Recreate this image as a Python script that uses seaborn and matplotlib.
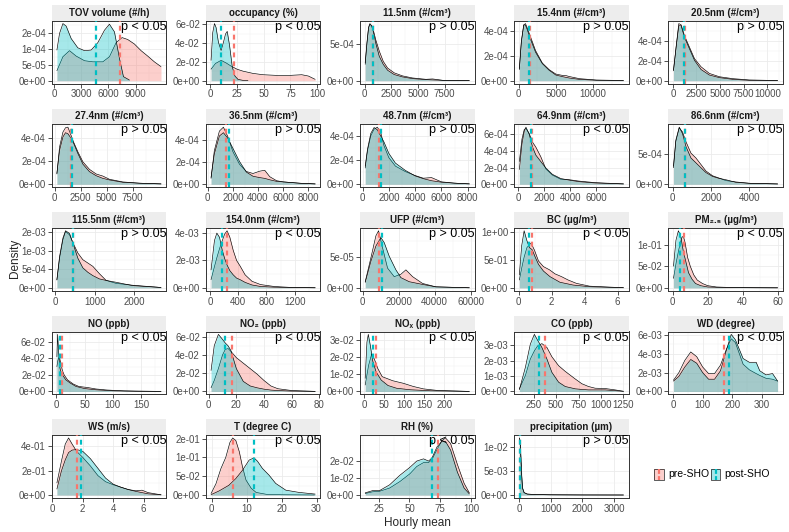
import numpy as np
import matplotlib
matplotlib.use("Agg")
import matplotlib.pyplot as plt
import matplotlib.ticker as mticker
from matplotlib.patches import Rectangle
import seaborn as sns

sns.set_theme(style="white")
plt.rcParams['font.family'] = ['Liberation Sans', 'DejaVu Sans']

GROUPS = ["pre-SHO", "post-SHO"]
COLORS = ["#F8766D", "#00BFC4"]

TITLES = ["TOV volume (#/h)", "occupancy (%)", "11.5nm (#/cm³)", "15.4nm (#/cm³)", "20.5nm (#/cm³)",
          "27.4nm (#/cm³)", "36.5nm (#/cm³)", "48.7nm (#/cm³)", "64.9nm (#/cm³)", "86.6nm (#/cm³)",
          "115.5nm (#/cm³)", "154.0nm (#/cm³)", "UFP (#/cm³)", "BC (µg/m³)", "PM₂.₅ (µg/m³)",
          "NO (ppb)", "NO₂ (ppb)", "NOₓ (ppb)", "CO (ppb)", "WD (degree)",
          "WS (m/s)", "T (degree C)", "RH (%)", "precipitation (µm)"]
P_TEXT = ["p < 0.05", "p < 0.05", "p > 0.05", "p > 0.05", "p > 0.05",
          "p > 0.05", "p > 0.05", "p > 0.05", "p < 0.05", "p > 0.05",
          "p > 0.05", "p < 0.05", "p > 0.05", "p < 0.05", "p < 0.05",
          "p < 0.05", "p < 0.05", "p < 0.05", "p < 0.05", "p < 0.05",
          "p < 0.05", "p < 0.05", "p < 0.05", "p > 0.05"]
MEAN_PRE = [7290, 22.0, 820, 1470, 1240, 1600, 1470, 1250, 1030, 665, 450, 247, 9260, 0.82, 6.4,
            10.6, 17.0, 29.7, 372, 173, 1.6, 6.2, 73.2, 19]
MEAN_POST = [4580, 10.3, 810, 1440, 1230, 1690, 1680, 1375, 1010, 655, 445, 174, 10560, 0.65, 4.4,
             7.1, 12.0, 21.2, 309, 190, 1.9, 12.0, 68.2, 20]
XTICKS = [[0, 3000, 6000, 9000], [0, 25, 50, 75, 100], [0, 2500, 5000, 7500], [0, 5000, 10000],
          [0, 2500, 5000, 7500, 10000], [0, 2500, 5000, 7500], [0, 2000, 4000, 6000, 8000],
          [0, 2000, 4000, 6000, 8000], [0, 2000, 4000, 6000], [0, 2000, 4000], [0, 1000, 2000],
          [0, 400, 800, 1200], [0, 20000, 40000, 60000], [0, 2, 4, 6], [0, 20, 40, 60],
          [0, 50, 100, 150], [0, 20, 40, 60, 80], [0, 50, 100, 150, 200], [250, 500, 750, 1000, 1250],
          [0, 100, 200, 300], [0, 2, 4, 6], [0, 10, 20, 30], [25, 50, 75, 100], [0, 1000, 2000, 3000]]
YTICKS = [[0, 5e-5, 1e-4, 1.5e-4], [0, 0.02, 0.04, 0.06], [0, 5e-4], [0, 2e-4, 4e-4], [0, 2e-4, 4e-4],
          [0, 2e-4, 4e-4], [0, 2e-4, 4e-4], [0, 2e-4, 4e-4], [0, 2e-4, 4e-4, 6e-4], [0, 5e-4],
          [0, 5e-4, 1e-3, 1.5e-3], [0, 2e-3, 4e-3], [0, 5e-5], [0, 0.5, 1.0], [0, 0.05, 0.1],
          [0, 0.02, 0.04, 0.06], [0, 0.02, 0.04, 0.06], [0, 0.01, 0.02, 0.03], [0, 1e-3, 2e-3, 3e-3],
          [0, 2e-3, 4e-3, 6e-3], [0, 0.2, 0.4], [0, 0.05, 0.1, 0.15], [0, 0.01, 0.02], [0, 0.005, 0.01]]
YLABELS = [["0e+00", "5e-05", "1e-04", "2e-04"], ["0e+00", "2e-02", "4e-02", "6e-02"], ["0e+00", "5e-04"],
           ["0e+00", "2e-04", "4e-04"], ["0e+00", "2e-04", "4e-04"], ["0e+00", "2e-04", "4e-04"],
           ["0e+00", "2e-04", "4e-04"], ["0e+00", "2e-04", "4e-04"], ["0e+00", "2e-04", "4e-04", "6e-04"],
           ["0e+00", "5e-04"], ["0e+00", "5e-04", "1e-03", "2e-03"], ["0e+00", "2e-03", "4e-03"],
           ["0e+00", "5e-05"], ["0e+00", "5e-01", "1e+00"], ["0e+00", "5e-02", "1e-01"],
           ["0e+00", "2e-02", "4e-02", "6e-02"], ["0e+00", "2e-02", "4e-02", "6e-02"],
           ["0e+00", "1e-02", "2e-02", "3e-02"], ["0e+00", "1e-03", "2e-03", "3e-03"],
           ["0e+00", "2e-03", "4e-03", "6e-03"], ["0e+00", "2e-01", "4e-01"],
           ["0e+00", "5e-02", "1e-01", "2e-01"], ["0e+00", "1e-02", "2e-02"], ["0e+00", "5e-03", "1e-02"]]

# ---- density curves ----
TOV_PRE_X = [330, 990, 1720, 2450, 3370, 4280, 5380, 6110, 6840, 7500, 8120, 8850, 9590, 10320, 11050, 11780]
TOV_PRE_Y = [3.1e-5, 7.5e-5, 9.4e-5, 7.7e-5, 6.25e-5, 5.9e-5, 5.9e-5, 7.5e-5, 1.19e-4, 1.35e-4, 1.29e-4,
             1.15e-4, 9.4e-5, 7.7e-5, 5.9e-5, 4.4e-5]
TOV_POST_X = [330, 620, 990, 1350, 1900, 2630, 3370, 4100, 4830, 5560, 6110, 6660, 7210, 7650, 8300]
TOV_POST_Y = [9.6e-5, 1.48e-4, 1.79e-4, 1.71e-4, 1.32e-4, 1.03e-4, 9.4e-5, 9.6e-5, 1.19e-4, 1.58e-4,
              1.77e-4, 1.53e-4, 7.0e-5, 1.25e-5, 2e-6]

OCC_PRE_X = [0.9, 5.0, 10.3, 15.0, 19.7, 25.1, 30.7, 40.1, 49.5, 62.1, 74.6, 85.6, 91.8, 98.1]
OCC_PRE_Y = [0.0122, 0.0182, 0.0216, 0.0188, 0.0154, 0.0122, 0.0101, 0.0077, 0.0063, 0.0056, 0.0056,
             0.0063, 0.0049, 0.0014]
OCC_POST_X = [0.9, 2.5, 4.1, 5.6, 7.8, 10.3, 12.5, 14.4, 16.0, 18.2, 20.7, 23.2, 26.0, 30.7, 35.4]
OCC_POST_Y = [0.0216, 0.0513, 0.0607, 0.0565, 0.0408, 0.0321, 0.0408, 0.0496, 0.0524, 0.0373, 0.0147,
              0.0049, 0.0014, 0.0003, 0.00005]

N11_X = [60, 220, 375, 500, 660, 840, 1060, 1375, 1750, 2160, 2780, 3560, 4500, 5750, 6375, 7310, 9810]
N11_PRE = [2.2e-4, 4.9e-4, 7.1e-4, 7.6e-4, 7.4e-4, 6.7e-4, 5.45e-4, 4.0e-4, 2.6e-4, 1.7e-4, 1.05e-4,
           6.4e-5, 3.6e-5, 1.8e-5, 2.3e-5, 4.5e-6, 1e-6]
N11_POST = [2.4e-4, 5.1e-4, 7.2e-4, 7.7e-4, 7.4e-4, 6.5e-4, 5.0e-4, 3.3e-4, 2.2e-4, 1.4e-4, 8.2e-5,
            5.0e-5, 2.7e-5, 1.4e-5, 1.0e-5, 4.5e-6, 1e-6]

N15_X = [90, 360, 680, 910, 1140, 1590, 2270, 3180, 4090, 5000, 5910, 6400, 6820, 8180, 10450, 14090]
N15_PRE = [0.89e-4, 3.08e-4, 4.47e-4, 4.6e-4, 4.26e-4, 3.53e-4, 2.42e-4, 1.42e-4, 0.89e-4, 0.53e-4,
           0.42e-4, 0.40e-4, 0.33e-4, 0.16e-4, 0.05e-4, 0.01e-4]
N15_POST = [0.97e-4, 3.2e-4, 4.5e-4, 4.47e-4, 4.13e-4, 3.34e-4, 2.29e-4, 1.37e-4, 0.84e-4, 0.45e-4,
            0.32e-4, 0.26e-4, 0.21e-4, 0.1e-4, 0.03e-4, 0.01e-4]

N20_X = [70, 350, 630, 880, 1230, 1760, 2290, 2990, 3870, 4930, 6340, 8100, 11090]
N20_PRE = [0.98e-4, 3.41e-4, 5.7e-4, 5.57e-4, 4.49e-4, 3.34e-4, 2.2e-4, 1.38e-4, 0.72e-4, 0.39e-4,
           0.2e-4, 0.07e-4, 0.01e-4]
N20_POST = [1.05e-4, 3.34e-4, 5.48e-4, 5.48e-4, 4.33e-4, 3.18e-4, 2.03e-4, 1.11e-4, 0.56e-4, 0.3e-4,
            0.13e-4, 0.03e-4, 0.01e-4]

N27_X = [224, 480, 800, 1050, 1280, 1500, 1820, 2240, 2720, 3350, 3990, 4630, 5270, 6550, 8150, 10220]
N27_PRE = [0.89e-4, 3.23e-4, 4.51e-4, 4.89e-4, 4.94e-4, 4.43e-4, 3.66e-4, 2.8e-4, 1.94e-4, 1.29e-4,
           0.89e-4, 0.71e-4, 0.43e-4, 0.2e-4, 0.09e-4, 0.03e-4]
N27_POST = [0.94e-4, 2.94e-4, 4.09e-4, 4.46e-4, 4.37e-4, 4.09e-4, 3.57e-4, 2.66e-4, 1.74e-4, 1.09e-4,
            0.74e-4, 0.51e-4, 0.37e-4, 0.17e-4, 0.09e-4, 0.03e-4]

N36_X = [270, 530, 930, 1250, 1600, 2000, 2530, 3070, 3600, 4130, 4530, 4930, 5470, 6000, 7330, 8530]
N36_PRE = [0.53e-4, 3.03e-4, 4.79e-4, 5.15e-4, 4.3e-4, 2.95e-4, 1.8e-4, 1.15e-4, 0.97e-4, 1.18e-4,
           1.26e-4, 0.68e-4, 0.32e-4, 0.21e-4, 0.09e-4, 0.03e-4]
N36_POST = [0.62e-4, 2.74e-4, 4.35e-4, 4.65e-4, 4.15e-4, 3.25e-4, 2.05e-4, 1.1e-4, 0.72e-4, 0.6e-4,
            0.53e-4, 0.4e-4, 0.26e-4, 0.21e-4, 0.09e-4, 0.03e-4]

N48_X = [200, 375, 625, 875, 1125, 1375, 1625, 2000, 2500, 3250, 4000, 4625, 5250, 6000, 7000, 8125]
N48_PRE = [1.34e-4, 2.77e-4, 4.0e-4, 4.55e-4, 4.72e-4, 4.3e-4, 3.2e-4, 2.2e-4, 1.5e-4, 1.05e-4,
           0.72e-4, 0.5e-4, 0.55e-4, 0.2e-4, 0.09e-4, 0.03e-4]
N48_POST = [1.49e-4, 2.91e-4, 4.2e-4, 4.69e-4, 4.5e-4, 4.0e-4, 3.5e-4, 2.55e-4, 1.75e-4, 1.15e-4,
            0.69e-4, 0.46e-4, 0.29e-4, 0.17e-4, 0.09e-4, 0.03e-4]

N64_X = [80, 280, 460, 590, 840, 1100, 1350, 1730, 2120, 2630, 3270, 3900, 4670, 5940, 8110]
N64_PRE = [2.73e-4, 5.42e-4, 6.58e-4, 6.69e-4, 6.08e-4, 5.04e-4, 4.46e-4, 3.31e-4, 1.85e-4, 1.1e-4,
           0.6e-4, 0.55e-4, 0.38e-4, 0.19e-4, 0.04e-4]
N64_POST = [1.77e-4, 4.85e-4, 6.38e-4, 6.85e-4, 6.0e-4, 4.46e-4, 3.5e-4, 2.73e-4, 1.96e-4, 1.19e-4,
            0.69e-4, 0.5e-4, 0.31e-4, 0.15e-4, 0.04e-4]

N86_X = [50, 170, 350, 520, 700, 960, 1220, 1480, 1740, 2090, 2430, 2780, 3300, 4000, 5480]
N86_PRE = [2.74e-4, 7.04e-4, 9.35e-4, 8.66e-4, 7.04e-4, 5.16e-4, 4.35e-4, 3.28e-4, 2.2e-4, 1.4e-4,
           1.02e-4, 0.6e-4, 0.38e-4, 0.16e-4, 0.05e-4]
N86_POST = [3.0e-4, 7.3e-4, 9.46e-4, 8.39e-4, 6.24e-4, 4.35e-4, 3.55e-4, 2.74e-4, 1.94e-4, 1.29e-4,
            0.97e-4, 0.75e-4, 0.32e-4, 0.16e-4, 0.05e-4]

N115_X = [42, 110, 193, 260, 361, 445, 571, 697, 824, 950, 1118, 1286, 1538, 1958, 2672]
N115_PRE = [0.21e-3, 0.8e-3, 1.29e-3, 1.52e-3, 1.43e-3, 1.22e-3, 0.94e-3, 0.76e-3, 0.67e-3, 0.58e-3,
            0.38e-3, 0.2e-3, 0.12e-3, 0.07e-3, 0.01e-3]
N115_POST = [0.22e-3, 0.85e-3, 1.34e-3, 1.54e-3, 1.47e-3, 1.21e-3, 0.8e-3, 0.54e-3, 0.42e-3, 0.33e-3,
             0.24e-3, 0.2e-3, 0.15e-3, 0.06e-3, 0.01e-3]

N154_X = [15, 63, 97, 135, 174, 208, 242, 281, 329, 377, 426, 498, 595, 716, 909, 1151, 1490]
N154_PRE = [0.6e-3, 1.55e-3, 2.2e-3, 2.86e-3, 3.45e-3, 3.93e-3, 4.17e-3, 3.7e-3, 2.74e-3, 2.0e-3,
            1.6e-3, 0.95e-3, 0.48e-3, 0.24e-3, 0.1e-3, 0.03e-3, 0.005e-3]
N154_POST = [1.31e-3, 3.45e-3, 4.0e-3, 3.69e-3, 2.74e-3, 2.14e-3, 1.67e-3, 1.26e-3, 0.95e-3, 0.71e-3,
             0.6e-3, 0.4e-3, 0.21e-3, 0.1e-3, 0.05e-3, 0.02e-3, 0.005e-3]

UFP_PRE_X = [1480, 4630, 7410, 8890, 11110, 13890, 17590, 21300, 24070, 27780, 33330, 40740, 59260]
UFP_PRE_Y = [0.99e-5, 4.84e-5, 8.41e-5, 9.23e-5, 6.48e-5, 3.19e-5, 1.81e-5, 2.2e-5, 2.91e-5, 1.81e-5,
             0.71e-5, 0.16e-5, 0.01e-5]
UFP_POST_X = [1480, 4630, 7410, 10190, 12040, 14810, 18520, 21300, 25930, 33330, 40740, 59260]
UFP_POST_Y = [0.88e-5, 4.29e-5, 6.76e-5, 8.13e-5, 7.31e-5, 5.11e-5, 2.91e-5, 1.65e-5, 0.99e-5, 0.55e-5,
              0.16e-5, 0.01e-5]

BC_PRE_X = [0.04, 0.18, 0.33, 0.5, 0.75, 0.96, 1.2, 1.5, 1.88, 2.2, 2.6, 3.0, 3.5, 4.3, 6.35]
BC_PRE_Y = [0.14, 0.35, 0.55, 0.72, 0.8, 0.67, 0.48, 0.38, 0.32, 0.25, 0.2, 0.14, 0.08, 0.03, 0.002]
BC_POST_X = [0.04, 0.18, 0.33, 0.49, 0.65, 0.82, 1.0, 1.2, 1.5, 1.9, 2.5, 3.3, 4.3, 6.35]
BC_POST_Y = [0.23, 0.75, 1.02, 0.85, 0.72, 0.68, 0.55, 0.42, 0.3, 0.2, 0.1, 0.05, 0.02, 0.002]

PM_PRE_X = [0.4, 2, 3.5, 5, 6, 7, 8.5, 10, 12, 14, 17, 20, 25, 35, 60]
PM_PRE_Y = [0.022, 0.06, 0.09, 0.115, 0.12, 0.105, 0.07, 0.05, 0.03, 0.018, 0.01, 0.005, 0.002, 0.0005, 0.00005]
PM_POST_X = [0.4, 1.8, 3.2, 4.5, 6, 7.5, 9, 11, 13, 16, 20, 30, 60]
PM_POST_Y = [0.05, 0.11, 0.132, 0.12, 0.085, 0.06, 0.035, 0.02, 0.01, 0.005, 0.002, 0.0005, 0.00005]

NO_PRE_X = [1.2, 3, 5.5, 8, 11, 14, 20, 30, 40, 55, 70, 90, 120, 185]
NO_PRE_Y = [0.03, 0.038, 0.042, 0.034, 0.025, 0.02, 0.014, 0.009, 0.006, 0.0048, 0.003, 0.0017, 0.0007, 0.00005]
NO_POST_X = [1.2, 2.5, 4, 6, 8, 12, 17, 25, 35, 50, 70, 100, 140, 185]
NO_POST_Y = [0.042, 0.069, 0.05, 0.03, 0.024, 0.019, 0.014, 0.01, 0.006, 0.0035, 0.002, 0.0008, 0.0002, 0.00005]

NO2_X = [1.7, 4, 7, 10, 12, 14, 16, 20, 25, 30, 35, 40, 45, 50, 60, 77]
NO2_PRE = [0.004, 0.012, 0.025, 0.04, 0.046, 0.047, 0.044, 0.037, 0.031, 0.025, 0.019, 0.012, 0.006,
           0.003, 0.001, 0.0001]
NO2_POST = [0.023, 0.05, 0.0625, 0.057, 0.053, 0.05, 0.045, 0.025, 0.011, 0.006, 0.004, 0.0025, 0.0015,
            0.001, 0.0004, 0.0001]

NOX_PRE_X = [2.5, 11, 18.6, 25.4, 33.9, 44.9, 71.2, 97.5, 123, 148, 182, 262]
NOX_PRE_Y = [0.0038, 0.0154, 0.022, 0.019, 0.0135, 0.0087, 0.0063, 0.0048, 0.0029, 0.0015, 0.0006, 0.00003]
NOX_POST_X = [2.5, 6.8, 10.2, 15.3, 21.2, 29.7, 42.4, 59.3, 80.5, 114, 165, 262]
NOX_POST_Y = [0.0077, 0.029, 0.0336, 0.027, 0.018, 0.0115, 0.0067, 0.0035, 0.0019, 0.001, 0.0004, 0.00003]

CO_X = [91, 158, 213, 258, 294, 342, 398, 453, 528, 602, 713, 787, 861, 935, 1046, 1158, 1250]
CO_PRE = [0.17e-3, 1.03e-3, 2.1e-3, 2.63e-3, 2.95e-3, 3.1e-3, 2.85e-3, 2.25e-3, 1.67e-3, 1.3e-3,
          0.81e-3, 0.5e-3, 0.32e-3, 0.21e-3, 0.19e-3, 0.1e-3, 0.01e-3]
CO_POST = [0.11e-3, 1.56e-3, 3.06e-3, 3.7e-3, 3.32e-3, 2.85e-3, 2.1e-3, 1.24e-3, 0.6e-3, 0.32e-3,
           0.17e-3, 0.13e-3, 0.1e-3, 0.1e-3, 0.1e-3, 0.05e-3, 0.01e-3]

WD_X = [2, 20, 40, 60, 80, 100, 120, 140, 160, 180, 196, 210, 236, 257, 280, 292, 313, 335, 352]
WD_PRE = [1.2e-3, 2.0e-3, 3.3e-3, 4.2e-3, 3.7e-3, 2.6e-3, 1.9e-3, 1.9e-3, 2.8e-3, 4.5e-3, 5.6e-3,
          5.2e-3, 2.9e-3, 2.3e-3, 1.9e-3, 1.7e-3, 1.4e-3, 1.3e-3, 1.1e-3]
WD_POST = [1.1e-3, 1.6e-3, 2.6e-3, 3.4e-3, 3.0e-3, 2.0e-3, 1.3e-3, 1.3e-3, 2.2e-3, 4.4e-3, 6.07e-3,
           5.5e-3, 3.5e-3, 3.1e-3, 3.1e-3, 2.2e-3, 1.76e-3, 1.9e-3, 1.1e-3]

WS_X = [0.3, 0.6, 0.85, 1.07, 1.3, 1.6, 2.0, 2.5, 3.0, 3.5, 4.0, 4.5, 5.0, 5.5, 5.9, 6.3, 7.15]
WS_PRE = [0.1, 0.28, 0.42, 0.47, 0.42, 0.36, 0.31, 0.24, 0.16, 0.11, 0.085, 0.065, 0.045, 0.035, 0.04,
          0.02, 0.002]
WS_POST = [0.05, 0.2, 0.29, 0.35, 0.37, 0.375, 0.36, 0.3, 0.22, 0.14, 0.09, 0.065, 0.045, 0.03, 0.02,
           0.01, 0.002]

T_PRE_X = [-0.2, 1.2, 2.6, 4.0, 5.2, 6.0, 6.9, 7.9, 8.8, 9.8, 11.3, 12.7, 15.6, 20.0, 29.4]
T_PRE_Y = [0.004, 0.03, 0.07, 0.1, 0.14, 0.152, 0.145, 0.115, 0.075, 0.04, 0.018, 0.007, 0.002, 0.0008, 0.0002]
T_POST_X = [-0.2, 2.1, 4.9, 6.9, 8.8, 10.7, 12.1, 13.1, 14.5, 16.4, 18.3, 21.2, 25.0, 29.6]
T_POST_Y = [0.001, 0.011, 0.026, 0.044, 0.066, 0.093, 0.099, 0.09, 0.071, 0.053, 0.031, 0.013, 0.007, 0.0026]

RH_X = [14.0, 20.0, 25.6, 33.8, 42.1, 50.3, 55.9, 61.4, 65.5, 68.3, 72.4, 76.5, 79.3, 83.4, 88.9, 94.4, 98.6]
RH_PRE = [0.0009, 0.0019, 0.0022, 0.0041, 0.0079, 0.0125, 0.0168, 0.0191, 0.0191, 0.0209, 0.0269, 0.0321,
          0.0336, 0.0303, 0.0181, 0.0069, 0.0013]
RH_POST = [0.0013, 0.0026, 0.0026, 0.006, 0.0116, 0.0163, 0.02, 0.0213, 0.02, 0.0219, 0.0284, 0.0318,
           0.0315, 0.0265, 0.0135, 0.0041, 0.0007]

PR_X = [0, 25, 50, 75, 100, 150, 250, 500, 1000, 2000, 3300]
PR_PRE = [0.0118, 0.0110, 0.0075, 0.0038, 0.0014, 0.0005, 0.0002, 0.0001, 0.00005, 0.00002, 0.00001]
PR_POST = [0.0117, 0.0111, 0.0077, 0.0040, 0.0015, 0.0005, 0.0002, 0.0001, 0.00005, 0.00002, 0.00001]

CURVES = [
    (TOV_PRE_X, TOV_PRE_Y, TOV_POST_X, TOV_POST_Y),
    (OCC_PRE_X, OCC_PRE_Y, OCC_POST_X, OCC_POST_Y),
    (N11_X, N11_PRE, N11_X, N11_POST),
    (N15_X, N15_PRE, N15_X, N15_POST),
    (N20_X, N20_PRE, N20_X, N20_POST),
    (N27_X, N27_PRE, N27_X, N27_POST),
    (N36_X, N36_PRE, N36_X, N36_POST),
    (N48_X, N48_PRE, N48_X, N48_POST),
    (N64_X, N64_PRE, N64_X, N64_POST),
    (N86_X, N86_PRE, N86_X, N86_POST),
    (N115_X, N115_PRE, N115_X, N115_POST),
    (N154_X, N154_PRE, N154_X, N154_POST),
    (UFP_PRE_X, UFP_PRE_Y, UFP_POST_X, UFP_POST_Y),
    (BC_PRE_X, BC_PRE_Y, BC_POST_X, BC_POST_Y),
    (PM_PRE_X, PM_PRE_Y, PM_POST_X, PM_POST_Y),
    (NO_PRE_X, NO_PRE_Y, NO_POST_X, NO_POST_Y),
    (NO2_X, NO2_PRE, NO2_X, NO2_POST),
    (NOX_PRE_X, NOX_PRE_Y, NOX_POST_X, NOX_POST_Y),
    (CO_X, CO_PRE, CO_X, CO_POST),
    (WD_X, WD_PRE, WD_X, WD_POST),
    (WS_X, WS_PRE, WS_X, WS_POST),
    (T_PRE_X, T_PRE_Y, T_POST_X, T_POST_Y),
    (RH_X, RH_PRE, RH_X, RH_POST),
    (PR_X, PR_PRE, PR_X, PR_POST),
]

# ---- layout (pixels) ----
W, H = 789, 532
L0, DX, PW = 51.7, 154.15, 114.5
T0, DY, PH = 20.7, 103.6, 62.8
SH = 15.7
ALPHA = 0.35

fig = plt.figure(figsize=(W / 100, H / 100), dpi=100)
fig.patch.set_facecolor("white")


def minor_between(ticks, lo, hi):
    t = list(ticks)
    step = t[1] - t[0]
    out = []
    v = t[0] - step / 2
    while v <= hi:
        if v >= lo:
            out.append(v)
        v += step
    return out


for i in range(24):
    r, c = divmod(i, 5)
    left = (L0 + c * DX) / W
    bottom = (H - (T0 + r * DY) - PH) / H
    ax = fig.add_axes([left, bottom, PW / W, PH / H])
    ax.set_facecolor("white")
    px_, py_, qx_, qy_ = CURVES[i]
    xmin = min(px_[0], qx_[0])
    xmax = max(px_[-1], qx_[-1])
    ymax = max(max(py_), max(qy_))
    rng = xmax - xmin
    x0, x1 = xmin - 0.05 * rng, xmax + 0.05 * rng
    y0, y1 = -0.05 * ymax, 1.05 * ymax
    ax.set_xlim(x0, x1)
    ax.set_ylim(y0, y1)

    ax.set_xticks(XTICKS[i])
    ax.set_xticklabels([str(v) for v in XTICKS[i]])
    ax.set_yticks(YTICKS[i])
    ax.set_yticklabels(YLABELS[i])
    ax.xaxis.set_minor_locator(mticker.FixedLocator(minor_between(XTICKS[i], x0, x1)))
    ax.yaxis.set_minor_locator(mticker.FixedLocator(minor_between(YTICKS[i], y0, y1)))
    ax.set_axisbelow(True)
    ax.grid(which="major", color="#EBEBEB", lw=0.6)
    ax.grid(which="minor", color="#F2F2F2", lw=0.35)
    ax.tick_params(which="minor", length=0)
    ax.tick_params(which="major", axis="both", direction="out", length=2.7, width=0.6,
                   color="#333333", labelsize=7, labelcolor="#4D4D4D", pad=1.5,
                   bottom=True, left=True)
    for s in ax.spines.values():
        s.set_color("#333333")
        s.set_linewidth(0.7)

    z = 2
    for xs, ys, col in [(px_, py_, COLORS[0]), (qx_, qy_, COLORS[1])]:
        ax.fill_between(xs, ys, 0, color=col, alpha=ALPHA, lw=0, zorder=z)
        sns.lineplot(x=np.asarray(xs, float), y=np.asarray(ys, float), ax=ax, color="black",
                     lw=0.45, estimator=None, sort=False, zorder=z + 1)
        z += 2
    ax.axvline(MEAN_PRE[i], color=COLORS[0], lw=1.6, ls=(0, (2.2, 1.8)), zorder=7)
    ax.axvline(MEAN_POST[i], color=COLORS[1], lw=1.6, ls=(0, (2.2, 1.8)), zorder=8)
    ax.set_xlabel("")
    ax.set_ylabel("")
    ax.text(1.0, 1.0, P_TEXT[i], transform=ax.transAxes, ha="right", va="top",
            fontsize=9, color="black", zorder=10, clip_on=False)

    sax = fig.add_axes([left, bottom + PH / H, PW / W, SH / H])
    sax.set_facecolor("#EDEDED")
    sax.set_xticks([])
    sax.set_yticks([])
    for s in sax.spines.values():
        s.set_visible(False)
    sax.text(0.5, 0.5, TITLES[i], transform=sax.transAxes, ha="center", va="center",
             fontsize=7, fontweight="bold", color="#1A1A1A")

fig.text(15 / W, 1 - 258 / H, "Density", rotation=90, ha="center", va="center", fontsize=8.5)
fig.text((L0 + 4 * DX + PW + L0) / 2 / W, 1 - 523 / H, "Hourly mean", ha="center", va="center",
         fontsize=8.5)

# legend
lax = fig.add_axes([0, 0, 1, 1])
lax.set_xlim(0, W)
lax.set_ylim(H, 0)
lax.axis("off")
lax.patch.set_alpha(0)
for (bx, tx, col, lab) in [(654.5, 668.5, COLORS[0], GROUPS[0]), (711.0, 724.5, COLORS[1], GROUPS[1])]:
    lax.add_patch(Rectangle((bx, 468.5), 9.5, 11.5, facecolor=col, alpha=ALPHA, lw=0))
    lax.add_patch(Rectangle((bx, 468.5), 9.5, 11.5, facecolor="none", edgecolor="black", lw=0.45))
    lax.plot([bx + 4.75, bx + 4.75], [468.5, 480], color=col, lw=1.6, ls=(0, (2.2, 1.0)))
    lax.text(tx, 474.3, lab, ha="left", va="center", fontsize=7.5, color="black")

fig.savefig("out.png", dpi=100)
